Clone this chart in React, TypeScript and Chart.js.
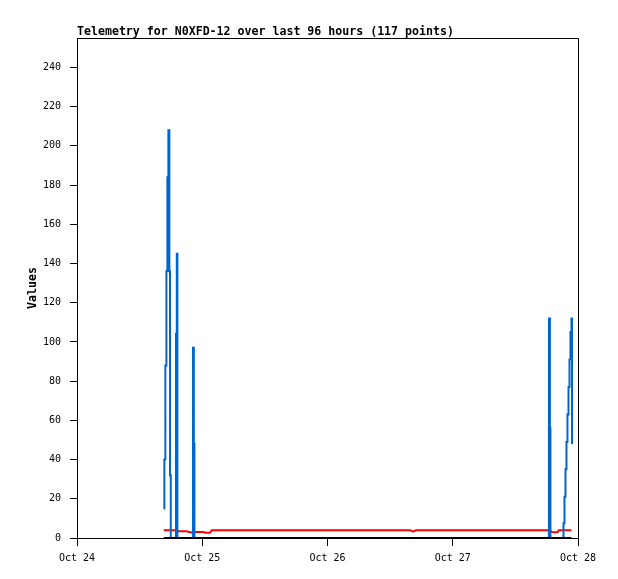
import React, { useEffect, useRef } from "react";
import { Chart, registerables } from "chart.js";

Chart.register(...registerables);

const TITLE = "Telemetry for N0XFD-12 over last 96 hours (117 points)";
const Y_LABEL = "Values";
const xTickLabels = ["Oct 24", "Oct 25", "Oct 26", "Oct 27", "Oct 28"];

// hours since Oct 24 00:00
const hours = [
  16.61, 16.74, 16.93, 17.13, 17.32, 17.51, 17.70, 17.82, 17.97,
  18.85, 18.97, 19.12, 19.24,
  20.0, 21.0, 21.5,
  22.14, 22.23, 22.39, 22.50,
  23.3, 24.2, 24.6, 25.5, 25.8,
  27.2, 28.6, 30.1, 31.5, 33.0, 34.4, 35.9, 37.3, 38.8, 40.2,
  41.7, 43.1, 44.6, 46.0, 47.5, 48.9, 50.4, 51.8, 53.3, 54.7,
  56.2, 57.6, 59.1, 60.5, 62.0, 63.9, 64.4, 64.9, 66.8, 68.3,
  69.7, 71.2, 72.6, 74.1, 75.5, 77.0, 78.4, 79.9, 81.3, 82.8,
  84.2, 85.7, 87.1, 88.6, 90.0,
  90.34, 90.43, 90.62, 90.72,
  91.0, 91.6, 92.1, 92.3,
  93.06, 93.22, 93.41, 93.60, 93.79, 93.98, 94.18, 94.37, 94.56, 94.75, 94.85,
];

const blueValues = [
  15, 40, 88, 136, 184, 208, 136, 32, 0,
  0, 104, 145, 0,
  0, 0, 0,
  0, 97, 48, 0,
  0, 0, 0, 0, 0,
  0, 0, 0, 0, 0, 0, 0, 0, 0, 0,
  0, 0, 0, 0, 0, 0, 0, 0, 0, 0,
  0, 0, 0, 0, 0, 0, 0, 0, 0, 0,
  0, 0, 0, 0, 0, 0, 0, 0, 0, 0,
  0, 0, 0, 0, 0,
  0, 112, 56, 0,
  0, 0, 0, 0,
  0, 7.5, 21, 35, 49, 63, 77, 91, 105, 112, 48,
];

const redValues = [
  3.9, 3.9, 3.9, 3.9, 3.9, 3.9, 3.9, 3.9, 3.9,
  3.9, 3.9, 3.5, 3.5,
  3.4, 3.4, 3.1,
  2.7, 2.7, 3.1, 3.1,
  3.1, 3.1, 2.7, 2.7, 3.9,
  3.9, 3.9, 3.9, 3.9, 3.9, 3.9, 3.9, 3.9, 3.9, 3.9,
  3.9, 3.9, 3.9, 3.9, 3.9, 3.9, 3.9, 3.9, 3.9, 3.9,
  3.9, 3.9, 3.9, 3.9, 3.9, 3.9, 3.2, 3.9, 3.9, 3.9,
  3.9, 3.9, 3.9, 3.9, 3.9, 3.9, 3.9, 3.9, 3.9, 3.9,
  3.9, 3.9, 3.9, 3.9, 3.9,
  3.9, 3.9, 3.7, 3.7,
  3.0, 2.9, 3.0, 3.9,
  3.9, 3.9, 3.9, 3.9, 3.9, 3.9, 3.9, 3.9, 3.9, 3.9, 3.9,
];

const blackValues = [
  0, 0, 0, 0, 0, 0, 0, 0, 0,
  0, 0, 0, 0,
  0, 0, 0,
  0, 0, 0, 0,
  0, 0, 0, 0, 0,
  0, 0, 0, 0, 0, 0, 0, 0, 0, 0,
  0, 0, 0, 0, 0, 0, 0, 0, 0, 0,
  0, 0, 0, 0, 0, 0, 0, 0, 0, 0,
  0, 0, 0, 0, 0, 0, 0, 0, 0, 0,
  0, 0, 0, 0, 0,
  0, 0, 0, 0,
  0, 0, 0, 0,
  0, 0, 0, 0, 0, 0, 0, 0, 0, 0, 0,
];

const MONO = "'DejaVu Sans Mono', 'Liberation Mono', monospace";

const framePlugin = {
  id: "frame",
  afterDraw(chart: any) {
    const { ctx, chartArea: a } = chart;
    ctx.save();
    ctx.strokeStyle = "#000";
    ctx.lineWidth = 1;
    ctx.beginPath();
    const t = Math.round(a.top) + 0.5;
    const r = Math.round(a.right) + 0.5;
    ctx.moveTo(a.left, t);
    ctx.lineTo(r, t);
    ctx.lineTo(r, a.bottom);
    ctx.stroke();
    ctx.fillStyle = "#000";
    ctx.font = `bold 11.6px ${MONO}`;
    ctx.textAlign = "left";
    ctx.textBaseline = "alphabetic";
    ctx.fillText(TITLE, 77, 35);
    ctx.translate(33, (a.top + a.bottom) / 2);
    ctx.rotate(-Math.PI / 2);
    ctx.textAlign = "center";
    ctx.textBaseline = "middle";
    ctx.fillText(Y_LABEL, 0, 0);
    ctx.restore();
  },
};

export default function App() {
  const ref = useRef<HTMLCanvasElement | null>(null);
  useEffect(() => {
    if (!ref.current) return;
    const mk = (vals: number[]) => hours.map((h, i) => ({ x: h, y: vals[i] }));
    const common = {
      pointRadius: 0,
      tension: 0,
      borderWidth: 2,
      borderJoinStyle: "miter" as const,
      borderCapStyle: "butt" as const,
      fill: false,
    };
    const chart = new Chart(ref.current, {
      type: "line",
      data: {
        datasets: [
          { ...common, label: "zero", data: mk(blackValues), borderColor: "#000000", order: 0 },
          { ...common, label: "blue", data: mk(blueValues), borderColor: "#0066cc", stepped: true, order: 1 },
          { ...common, label: "red", data: mk(redValues), borderColor: "#ff0000", borderJoinStyle: "bevel" as const, order: 2 },
        ],
      },
      options: {
        animation: false,
        responsive: false,
        layout: { padding: { top: 38, right: 40, left: 0, bottom: 0 } },
        plugins: { legend: { display: false }, tooltip: { enabled: false }, title: { display: false } },
        scales: {
          x: {
            type: "linear",
            min: 0,
            max: 96,
            afterFit: (s: any) => { s.height = 41; },
            grid: { drawOnChartArea: false, drawTicks: true, tickLength: 8, color: "#000" },
            border: { display: true, color: "#000", width: 1 },
            ticks: {
              stepSize: 24,
              autoSkip: false,
              maxRotation: 0,
              padding: 6,
              color: "#000",
              font: { family: MONO, size: 10 },
              callback: (v: any) => xTickLabels[Math.round(Number(v) / 24)] ?? "",
            },
          },
          y: {
            type: "linear",
            min: 0,
            max: 255,
            afterFit: (s: any) => { s.width = 77; },
            afterBuildTicks: (s: any) => { s.ticks = s.ticks.filter((t: any) => t.value % 20 === 0); },
            grid: { drawOnChartArea: false, drawTicks: true, tickLength: 7, color: "#000" },
            border: { display: true, color: "#000", width: 1 },
            ticks: {
              stepSize: 20,
              autoSkip: false,
              padding: 9,
              color: "#000",
              font: { family: MONO, size: 10 },
            },
          },
        },
      },
      plugins: [framePlugin],
    });
    return () => chart.destroy();
  }, []);
  return (
    <div style={{ position: "absolute", left: 0, top: 0, width: 618, height: 579, background: "#fff" }}>
      <canvas ref={ref} width={618} height={579} style={{ display: "block" }} />
    </div>
  );
}
